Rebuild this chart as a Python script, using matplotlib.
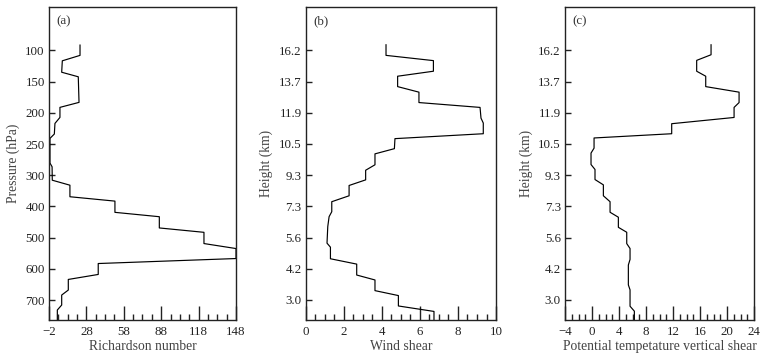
import numpy as np
import matplotlib
matplotlib.use("Agg")
import matplotlib.pyplot as plt
from matplotlib.ticker import FixedLocator

plt.rcParams["font.family"] = ["Liberation Serif", "DejaVu Serif"]

# tick labels of the vertical axes (equally spaced on the plot)
pressure_ticks = [100, 150, 200, 250, 300, 400, 500, 600, 700]
height_ticks = [16.2, 13.7, 11.9, 10.5, 9.3, 7.3, 5.6, 4.2, 3.0]

# (a) Richardson number profile vs pressure (hPa)
ri_pres = [91.5, 108, 116.7, 135, 142.3, 183.3, 191.3, 207.4, 217, 234, 241, 280.5,
           286.5, 316, 332, 369, 383, 419, 433, 469, 483, 519, 535, 567, 583, 618,
           634, 668, 684, 716, 732, 764]
ri_vals = [22.9, 22.9, 8.7, 8.2, 21.5, 22.1, 6.8, 6.8, 2.8, 2.3, -1.2, -1.2,
           0.5, 0.65, 14.8, 14.8, 50.9, 50.9, 86.5, 86.5, 122.3, 122.3, 148, 148,
           37.5, 37.5, 13.5, 13.5, 8.2, 8.2, 4.7, 4.7]

# (b) wind shear vs height (km)
ws_height = [16.65, 15.8, 15.38, 14.53, 14.13, 13.41, 13.09, 12.49, 12.21, 11.66,
             11.44, 10.96, 10.74, 10.32, 10.12, 9.70, 9.49, 9.0, 8.64, 7.98, 7.6,
             7.01, 6.74, 6.20, 5.35, 5.17, 4.65, 4.41, 3.96, 3.77, 3.36, 3.17,
             2.77, 2.56, 2.23]
ws_vals = [4.22, 4.22, 6.71, 6.71, 4.83, 4.83, 5.95, 5.95, 9.16, 9.21, 9.33, 9.33,
           4.69, 4.66, 3.64, 3.64, 3.15, 3.15, 2.28, 2.28, 1.37, 1.37, 1.23, 1.16,
           1.12, 1.30, 1.30, 2.68, 2.68, 3.64, 3.64, 4.87, 4.87, 6.74, 6.74]

# (c) potential temperature vertical shear vs height (km)
pt_height = [16.65, 15.85, 15.4, 14.53, 14.13, 13.41, 13.09, 12.49, 12.21, 11.69,
             11.41, 10.96, 10.77, 10.34, 10.15, 9.71, 9.52, 9.02, 8.68, 7.98, 7.6,
             6.98, 6.71, 6.16, 5.89, 5.33, 5.11, 4.62, 4.37, 3.58, 3.39, 2.76,
             2.57, 2.22]
pt_vals = [17.63, 17.63, 15.5, 15.5, 16.84, 16.84, 21.78, 21.78, 21.04, 21.04,
           11.8, 11.8, 0.3, 0.3, -0.15, -0.15, 0.44, 0.44, 1.68, 1.68, 2.67, 2.67,
           3.90, 3.90, 5.14, 5.14, 5.63, 5.63, 5.38, 5.38, 5.63, 5.63, 6.27, 6.27]

# piecewise-linear scales so that tick levels are equally spaced
levels = np.arange(len(pressure_ticks), dtype=float)
p_knots = np.concatenate([[100 - 500], pressure_ticks, [700 + 1000]])
p_lev = np.concatenate([[-10], levels, [18]])
h_knots = np.concatenate([[3.0 - 12], height_ticks[::-1], [16.2 + 25]])
h_lev = np.concatenate([[-18], -levels[::-1], [10]])


def p_fwd(v):
    return np.interp(v, p_knots, p_lev)


def p_inv(v):
    return np.interp(v, p_lev, p_knots)


def h_fwd(v):
    return np.interp(v, h_knots, h_lev)


def h_inv(v):
    return np.interp(v, h_lev, h_knots)


fig = plt.figure(figsize=(7.7, 3.56), dpi=100)
bottom, height = 0.1011, 0.8792
ax_a = fig.add_axes([0.0636, bottom, 0.2429, height])
ax_b = fig.add_axes([0.3970, bottom, 0.2472, height])
ax_c = fig.add_axes([0.7338, bottom, 0.2455, height])

lab_color = "#444444"

ax_a.plot(ri_vals, ri_pres, color="black", lw=0.85)
ax_a.set_yscale("function", functions=(p_fwd, p_inv))
ax_a.set_ylim(764, 30.5)
ax_a.set_yticks(pressure_ticks)
ax_a.set_yticklabels([str(p) for p in pressure_ticks])
ax_a.set_xlim(-2, 148)
ax_a.xaxis.set_major_locator(FixedLocator(np.arange(-2, 149, 30)))
ax_a.xaxis.set_minor_locator(FixedLocator(np.arange(-2, 149, 7.5)))
ax_a.set_xlabel("Richardson number", color=lab_color, labelpad=1.5)
ax_a.set_ylabel("Pressure (hPa)", color=lab_color, labelpad=4)

ax_b.plot(ws_vals, ws_height, color="black", lw=0.85)
ax_b.set_xlim(0, 10)
ax_b.xaxis.set_major_locator(FixedLocator(np.arange(0, 10.1, 2)))
ax_b.xaxis.set_minor_locator(FixedLocator(np.arange(0, 10.1, 0.5)))
ax_b.set_xlabel("Wind shear", color=lab_color, labelpad=1.5)
ax_b.set_ylabel("Height (km)", color=lab_color, labelpad=4)

ax_c.plot(pt_vals, pt_height, color="black", lw=0.85)
ax_c.set_xlim(-4, 24)
ax_c.xaxis.set_major_locator(FixedLocator(np.arange(-4, 24.1, 4)))
ax_c.xaxis.set_minor_locator(FixedLocator(np.arange(-4, 24.1, 1)))
ax_c.set_xlabel("Potential tempetature vertical shear", color=lab_color, labelpad=1.5)
ax_c.set_ylabel("Height (km)", color=lab_color, labelpad=4)

for ax in (ax_b, ax_c):
    ax.set_yscale("function", functions=(h_fwd, h_inv))
    ax.set_ylim(2.23, 19.675)
    ax.set_yticks(height_ticks)
    ax.set_yticklabels([f"{h:.1f}" for h in height_ticks])
    ax.yaxis.set_minor_locator(FixedLocator([]))

ax_a.yaxis.set_minor_locator(FixedLocator([]))

for ax, tag in zip((ax_a, ax_b, ax_c), ("(a)", "(b)", "(c)")):
    for s in ax.spines.values():
        s.set_linewidth(1.0)
        s.set_color("#222222")
    ax.tick_params(axis="x", which="major", direction="in", length=10, width=1.0,
                   labelsize=9.3, pad=4, colors="#222222")
    ax.tick_params(axis="x", which="minor", direction="in", length=4.5, width=1.0,
                   colors="#222222")
    ax.tick_params(axis="y", which="major", direction="in", length=4, width=1.0,
                   labelsize=9.3, pad=3, colors="#222222")
    ax.xaxis.label.set_size(9.8)
    ax.yaxis.label.set_size(9.8)
    ax.text(0.04, 0.955, tag, transform=ax.transAxes, ha="left", va="center",
            fontsize=9.3, color="#333333")

fig.savefig("out.png", dpi=100)
